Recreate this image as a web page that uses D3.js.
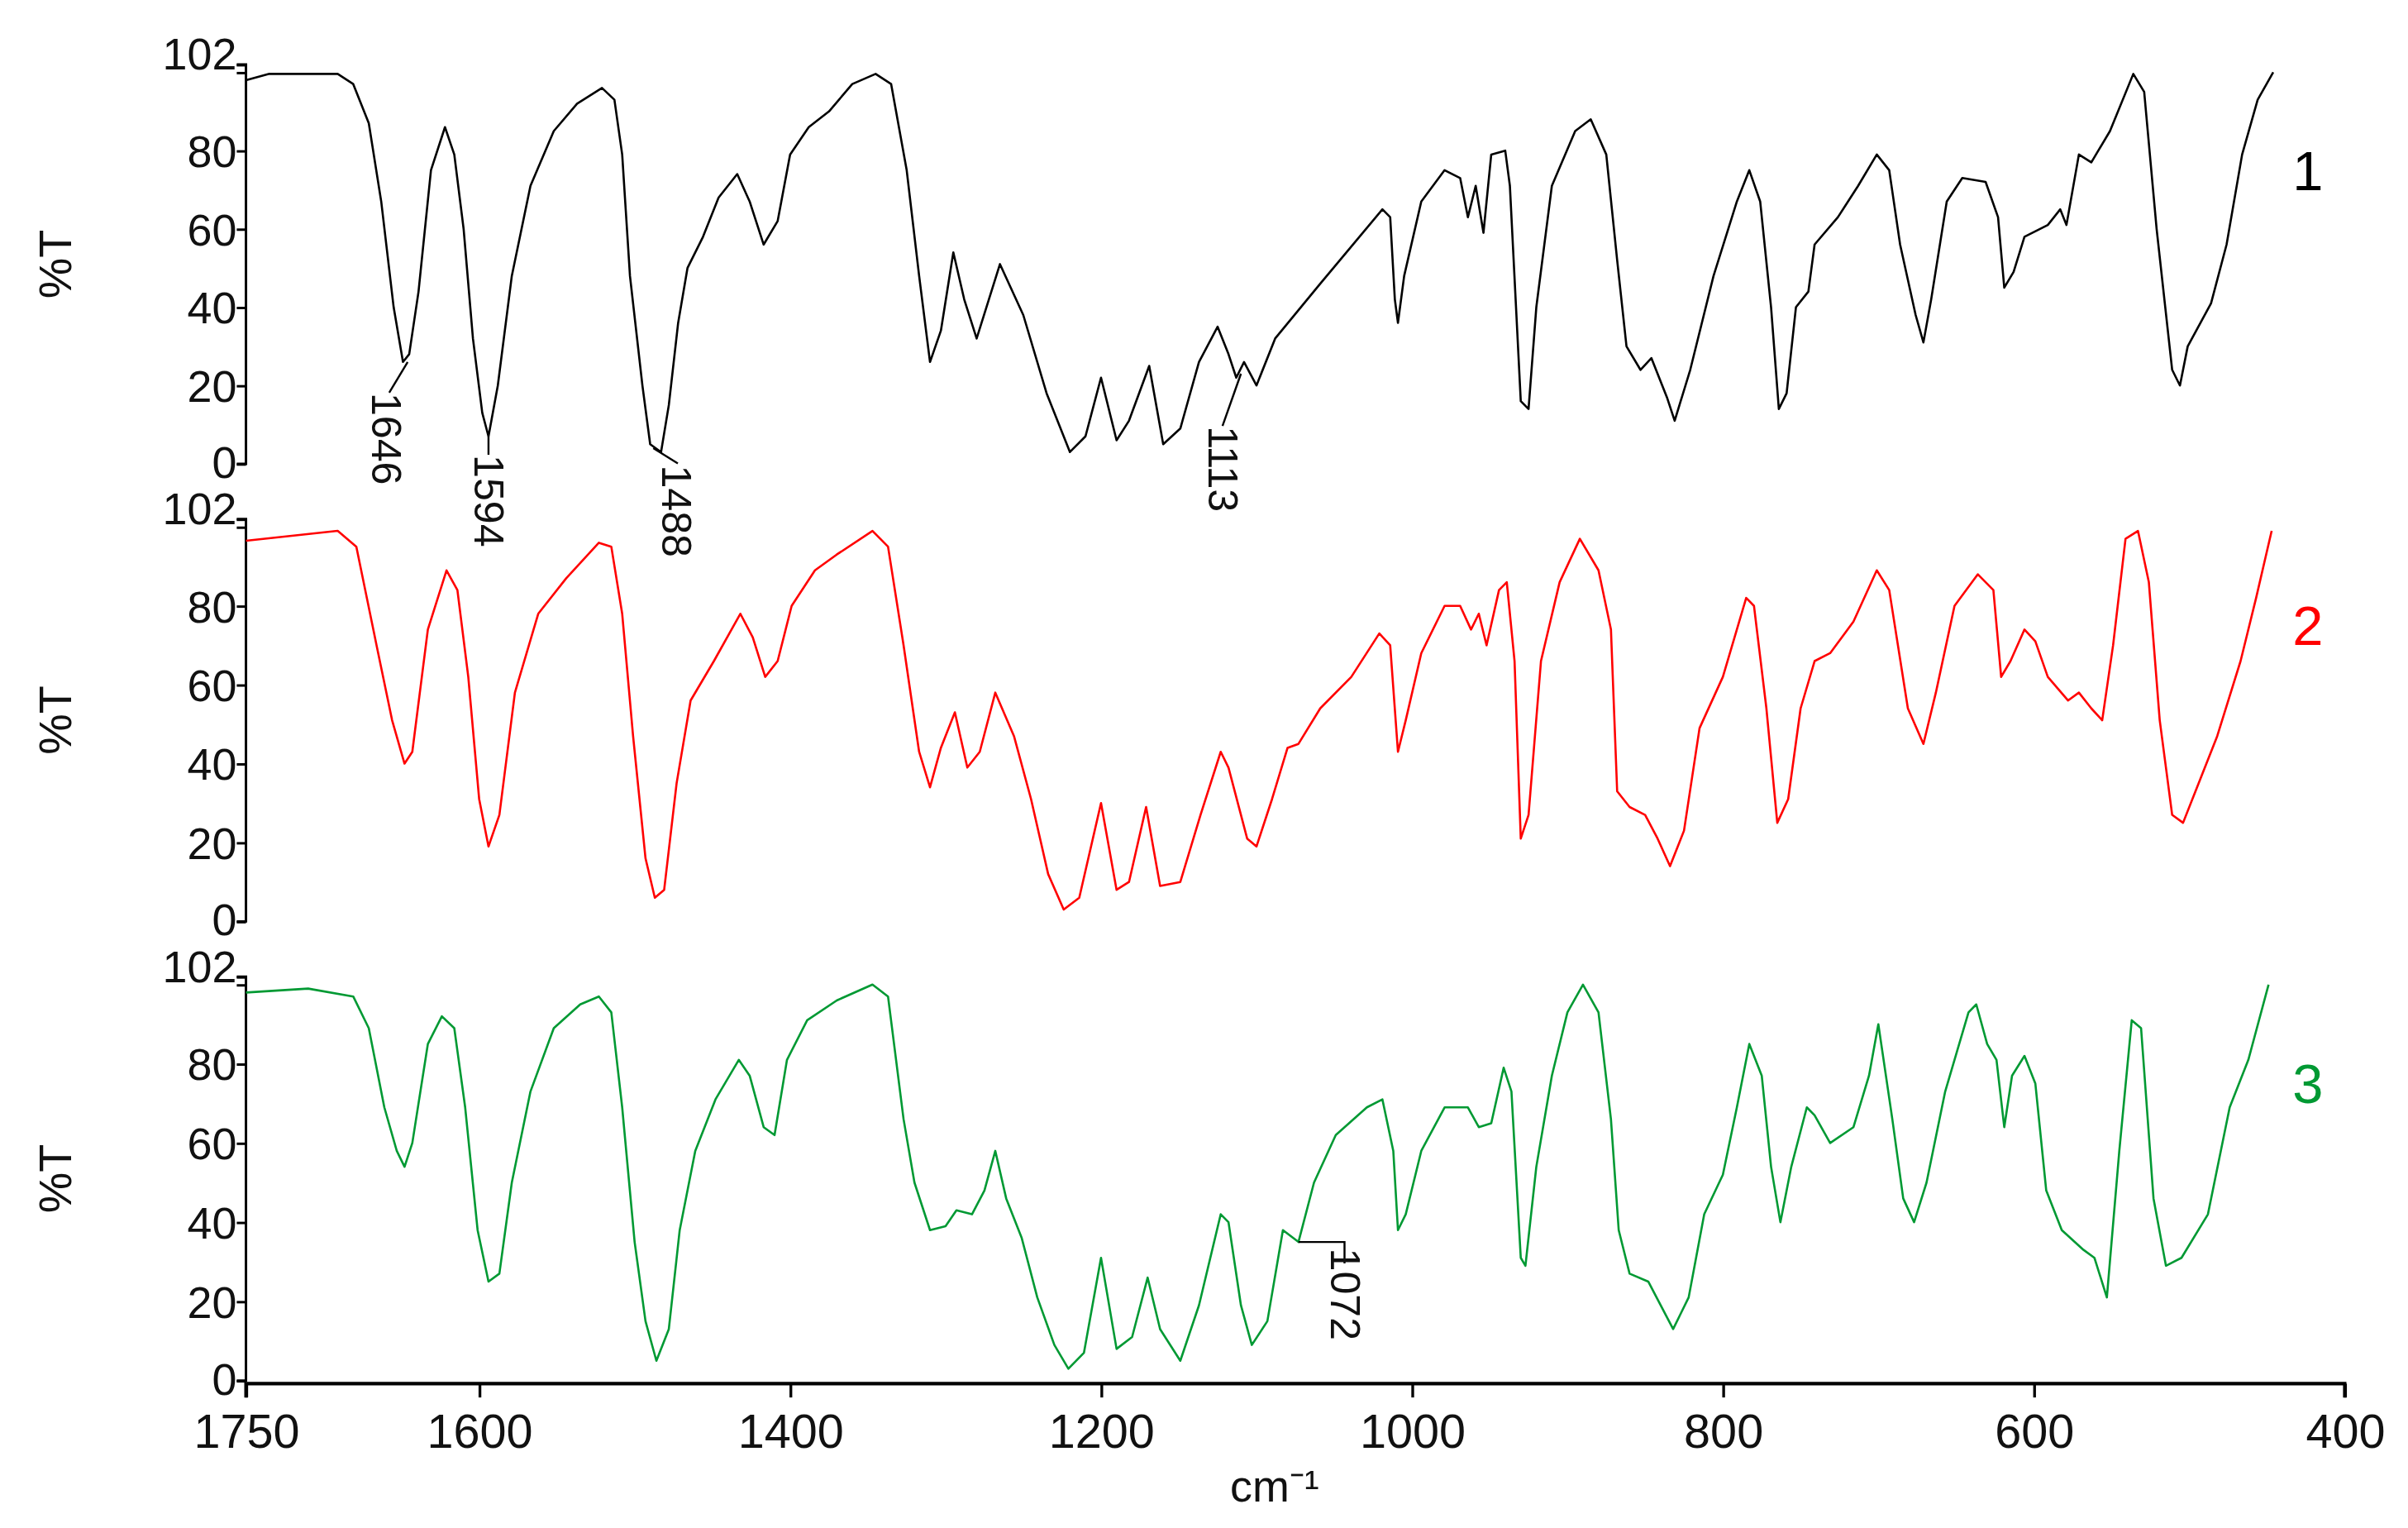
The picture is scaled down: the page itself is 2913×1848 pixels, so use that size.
<!DOCTYPE html>
<html>
<head>
<meta charset="utf-8">
<script src="https://cdn.jsdelivr.net/npm/d3@7"></script>
<style>
  body { margin: 0; background: #fff; }
  text { font-family: "Liberation Sans", Arial, sans-serif; }
</style>
</head>
<body>
<svg id="chart" width="2913" height="1848" viewBox="0 0 1568 995"></svg>
<script>
// IR spectra, [wavenumber, %T]
const spectrum1 = [[1750,98],[1735,99.6],[1691,99.6],[1681,97],[1671,87],[1663,67],[1655,40],[1649,26],[1645,28],[1639,44],[1631,75],[1622,86],[1616,79],[1610,60],[1604,32],[1598,13],[1594,7],[1588,20],[1579,48],[1567,71],[1552,85],[1537,92],[1521,96],[1513,93],[1508,79],[1503,48],[1495,20],[1490,5],[1483,3],[1478,15],[1472,36],[1466,50],[1456,58],[1446,68],[1434,74],[1426,67],[1417,56],[1408,62],[1400,79],[1388,86],[1375,90],[1360,97],[1345,99.6],[1335,97],[1325,75],[1317,48],[1310,26],[1303,34],[1295,54],[1288,42],[1280,32],[1265,51],[1250,38],[1235,18],[1220,3],[1210,7],[1200,22],[1190,6],[1182,11],[1169,25],[1160,5],[1149,9],[1137,26],[1125,35],[1118,28],[1113,22],[1108,26],[1100,20],[1088,32],[1059,46],[1019,65],[1014,63],[1011,42],[1009,36],[1005,48],[994,67],[979,75],[969,73],[964,63],[959,71],[954,59],[949,79],[940,80],[937,71],[930,16],[925,14],[920,40],[910,71],[895,85],[885,88],[875,79],[868,52],[862,30],[853,24],[846,27],[836,17],[831,11],[821,24],[806,48],[791,67],[783,75],[776,67],[769,40],[764,14],[759,18],[753,40],[745,44],[741,56],[726,63],[713,71],[701,79],[693,75],[686,56],[676,38],[671,31],[666,42],[656,67],[646,73],[631,72],[623,63],[619,45],[613,49],[606,58],[591,61],[583,65],[579,61],[571,79],[563,77],[551,85],[536,99.6],[529,95],[521,60],[511,24],[506,20],[501,30],[486,41],[476,56],[466,79],[456,93],[446,100]];

const spectrum2 = [[1750,96.5],[1691,99],[1679,95],[1666,70],[1656,51],[1648,40],[1643,43],[1633,74],[1621,89],[1614,84],[1607,62],[1600,31],[1594,19],[1587,27],[1577,58],[1562,78],[1544,87],[1523,96],[1515,95],[1508,78],[1501,47],[1493,16],[1487,6],[1481,8],[1473,35],[1464,56],[1449,66],[1432,78],[1424,72],[1416,62],[1408,66],[1399,80],[1384,89],[1370,93],[1347,99],[1337,95],[1327,70],[1317,43],[1310,34],[1303,44],[1294,53],[1286,39],[1278,43],[1268,58],[1256,47],[1245,31],[1234,12],[1224,3],[1214,6],[1200,30],[1190,8],[1182,10],[1171,29],[1162,9],[1149,10],[1136,27],[1123,43],[1118,39],[1106,21],[1100,19],[1090,31],[1080,44],[1073,45],[1059,54],[1039,62],[1021,73],[1014,70],[1009,43],[1004,51],[994,68],[979,80],[969,80],[962,74],[957,78],[952,70],[944,84],[939,86],[934,66],[930,21],[925,27],[917,66],[905,86],[892,97],[880,89],[872,74],[868,33],[860,29],[850,27],[842,21],[834,14],[825,23],[815,49],[800,62],[785,82],[780,80],[772,54],[765,25],[758,31],[750,54],[741,66],[731,68],[716,76],[701,89],[693,84],[681,54],[671,45],[663,58],[651,80],[636,88],[626,84],[621,62],[615,66],[606,74],[599,71],[591,62],[578,56],[571,58],[563,54],[556,51],[549,70],[541,97],[533,99],[526,86],[519,51],[511,27],[504,25],[496,33],[482,47],[467,66],[457,82],[447,99]];

const spectrum3 = [[1750,98],[1710,99],[1681,97],[1671,89],[1661,69],[1653,58],[1648,54],[1643,60],[1633,85],[1624,92],[1616,89],[1609,69],[1601,38],[1594,25],[1587,27],[1579,50],[1567,73],[1552,89],[1535,95],[1523,97],[1515,93],[1508,69],[1500,35],[1493,15],[1486,5],[1478,13],[1471,38],[1461,58],[1448,71],[1433,81],[1426,77],[1417,64],[1410,62],[1402,81],[1389,91],[1370,96],[1347,100],[1337,97],[1327,66],[1320,50],[1310,38],[1300,39],[1293,43],[1283,42],[1275,48],[1268,58],[1261,46],[1251,36],[1241,21],[1230,9],[1221,3],[1211,7],[1200,31],[1190,8],[1180,11],[1170,26],[1162,13],[1149,5],[1137,19],[1123,42],[1118,40],[1110,19],[1103,9],[1093,15],[1083,38],[1073,35],[1063,50],[1049,62],[1029,69],[1019,71],[1012,58],[1009,38],[1004,42],[994,58],[979,69],[964,69],[957,64],[949,65],[941,79],[936,73],[930,31],[927,29],[920,54],[910,77],[900,93],[890,100],[880,93],[872,66],[867,38],[860,27],[848,25],[840,19],[832,13],[822,21],[812,42],[800,52],[791,69],[783,85],[775,77],[769,54],[763,40],[756,54],[746,69],[741,67],[731,60],[716,64],[706,77],[700,90],[691,66],[684,46],[677,40],[669,50],[657,73],[642,93],[637,95],[630,85],[624,81],[619,64],[614,77],[606,82],[599,75],[592,48],[582,38],[568,33],[561,31],[553,21],[545,58],[537,91],[531,89],[523,46],[515,29],[505,31],[488,42],[474,69],[462,81],[449,100]];

const seriesNames = ['1', '2', '3'];
const seriesColors = ['#000000', '#ff0000', '#009933'];
const xTicks = [1750, 1600, 1400, 1200, 1000, 800, 600, 400];
const yTickLabels = [0, 20, 40, 60, 80, 102];
// peak labels: panel index, wavenumber, %T at anchor, text
const peakLabels = [
    [0, 1646, 26, '1646'],
    [0, 1594, 7, '1594'],
    [0, 1488, 4, '1488'],
    [0, 1110, 23, '1113'],
    [2, 1073, 35, '1072']
];

const svg = d3.select('#chart');
const x = d3.scaleLinear().domain([1750, 400]).range([160, 1527]);
const panelTops = [42, 338, 636];
const panelBottoms = [302, 600, 899];
const spectra = [spectrum1, spectrum2, spectrum3];

spectra.forEach((data, i) => {
    const y = d3.scaleLinear().domain([0, 102]).range([panelBottoms[i], panelTops[i]]);
    const g = svg.append('g');

    // y axis
    const axis = d3.axisLeft(y)
        .tickValues([0, 20, 40, 60, 80, 100, 102])
        .tickSize(6)
        .tickFormat(d => d);
    const ga = g.append('g').attr('transform', 'translate(160,0)').call(axis);
    ga.select('.domain').attr('stroke-width', 1.6).attr('d', `M-6,${y(102)}H0V${y(0)}H-6`);
    ga.selectAll('.tick line').attr('stroke-width', 1.6);
    ga.selectAll('.tick text').filter(d => !yTickLabels.includes(d)).remove();
    ga.selectAll('.tick text').attr('font-size', 29).attr('x', -6)
        .attr('font-family', '"Liberation Sans", Arial, sans-serif').attr('fill', '#111')
        .attr('dy', d => d === 102 ? '0.1em' : d === 0 ? '0.3em' : '0.35em');

    g.append('text')
        .attr('transform', `translate(46,${(panelTops[i] + panelBottoms[i]) / 2}) rotate(-90)`)
        .attr('text-anchor', 'middle').attr('font-size', 30).attr('fill', '#111')
        .text('%T');

    g.append('path').datum(data)
        .attr('fill', 'none').attr('stroke', seriesColors[i]).attr('stroke-width', 1.4)
        .attr('stroke-linejoin', 'round')
        .attr('d', d3.line().x(d => x(d[0])).y(d => y(d[1])));

    g.append('text')
        .attr('x', 1503).attr('y', y(70))
        .attr('text-anchor', 'middle').attr('font-size', 36).attr('fill', seriesColors[i])
        .text(seriesNames[i]);
});

// x axis
const xa = svg.append('g').attr('transform', 'translate(0,901)')
    .call(d3.axisBottom(x).tickValues(xTicks).tickSize(9).tickFormat(d3.format('d')));
xa.select('.domain').attr('stroke-width', 2.2).attr('d', 'M160,9V0H1527V9');
xa.selectAll('.tick line').attr('stroke-width', 1.8);
xa.selectAll('.tick text').attr('font-size', 31).attr('y', 20).attr('fill', '#111')
    .attr('font-family', '"Liberation Sans", Arial, sans-serif');
svg.append('text').attr('x', 830).attr('y', 978).attr('text-anchor', 'middle')
    .attr('font-size', 29).attr('fill', '#111').text('cm\u207B\u00B9');

// peak labels
peakLabels.forEach(([p, wn, t, label]) => {
    const y = d3.scaleLinear().domain([0, 102]).range([panelBottoms[p], panelTops[p]]);
    const ax = x(wn), ay = y(t);
    let pts, tx, ty;
    if (label === '1072') {
        pts = [[ax, ay], [ax + 30, ay], [ax + 30, ay + 14]];
        tx = ax + 32; ty = ay + 4;
    } else if (label === '1594') {
        pts = [[ax, ay], [ax, ay + 12]];
        tx = ax + 2; ty = ay + 12;
    } else if (label === '1488') {
        pts = [[ax, ay], [ax + 16, ay + 10]];
        tx = ax + 17; ty = ay + 11;
    } else if (label === '1113') {
        pts = [[ax, ay], [ax - 12, ay + 34]];
        tx = ax - 10; ty = ay + 34;
    } else {
        pts = [[ax, ay], [ax - 12, ay + 20]];
        tx = ax - 12; ty = ay + 20;
    }
    svg.append('path').attr('d', d3.line()(pts)).attr('fill', 'none')
        .attr('stroke', '#000').attr('stroke-width', 1.3);
    svg.append('text').attr('transform', `translate(${tx - 11},${ty}) rotate(90)`)
        .attr('font-size', 27).attr('fill', '#111').text(label);
});
</script>
</body>
</html>
